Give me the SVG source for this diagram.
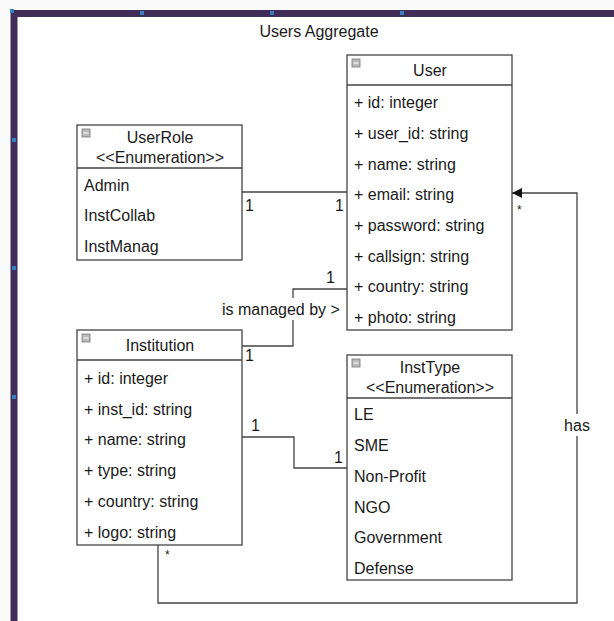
<svg xmlns="http://www.w3.org/2000/svg" width="614" height="621" viewBox="0 0 614 621">
<style>
text{font-family:"Liberation Sans",Arial,sans-serif;font-size:16px;fill:#1a1a1a}
.box{fill:#fff;stroke:#444;stroke-width:1.3}
.sep{stroke:#444;stroke-width:1.3}
.t{text-anchor:middle}
.con{fill:none;stroke:#444;stroke-width:1.3}
.ic{fill:#bbb;stroke:#777;stroke-width:0.8}
.icl{stroke:#fff;stroke-width:1}
.dot{fill:#3b7ec0}
</style>
<defs>
<marker id="arr" viewBox="0 0 10 10" refX="10" refY="5" markerWidth="10" markerHeight="10" markerUnits="userSpaceOnUse" orient="auto">
<path d="M0,0 L10,5 L0,10 Z" fill="#111"/>
</marker>
<g id="icon"><rect class="ic" x="0" y="0" width="8" height="8"/><line class="icl" x1="1.5" y1="4" x2="6.5" y2="4"/></g>
</defs>
<rect x="0" y="0" width="614" height="621" fill="#fafafa"/>
<g id="frame">
<rect x="14" y="13.5" width="610" height="620" fill="#fff" stroke="#3f2d58" stroke-width="7"/>
<rect class="dot" x="10" y="9" width="4" height="4"/>
<rect class="dot" x="140" y="11" width="4" height="4"/>
<rect class="dot" x="270" y="11" width="4" height="4"/>
<rect class="dot" x="400" y="11" width="4" height="4"/>
<rect class="dot" x="12" y="138" width="4" height="4"/>
<rect class="dot" x="12" y="266" width="4" height="4"/>
<rect class="dot" x="12" y="395" width="4" height="4"/>
<text class="t" x="319" y="37">Users Aggregate</text>
</g>
<g id="connectors">
<line class="con" x1="242" y1="192" x2="347" y2="192"/>
<text x="245" y="211">1</text>
<text x="335" y="211">1</text>
<polyline class="con" points="242,346 293,346 293,289 347,289"/>
<rect x="220" y="298" width="124" height="22" fill="#fff"/>
<text x="222" y="315">is managed by &gt;</text>
<text x="326" y="283">1</text>
<text x="245" y="361">1</text>
<polyline class="con" points="242,437 294,437 294,468 347,468"/>
<text x="251" y="431">1</text>
<text x="334" y="463">1</text>
<polyline class="con" points="158,545 158,603 577,603 577,193 512,193" marker-end="url(#arr)"/>
<rect x="560" y="414" width="34" height="22" fill="#fff"/>
<text class="t" x="577" y="431">has</text>
<text x="517" y="214" style="font-size:12px">*</text>
<text x="165" y="559" style="font-size:12px">*</text>
</g>
<g id="User">
<rect class="box" x="347" y="55" width="165" height="275"/>
<line class="sep" x1="347" y1="85" x2="512" y2="85"/>
<use href="#icon" x="352" y="59"/>
<text class="t" x="430" y="76">User</text>
<text x="354" y="108">+ id: integer</text>
<text x="354" y="139">+ user_id: string</text>
<text x="354" y="170">+ name: string</text>
<text x="354" y="200">+ email: string</text>
<text x="354" y="231">+ password: string</text>
<text x="354" y="262">+ callsign: string</text>
<text x="354" y="292">+ country: string</text>
<text x="354" y="323">+ photo: string</text>
</g>
<g id="UserRole">
<rect class="box" x="77" y="125" width="165" height="135"/>
<line class="sep" x1="77" y1="168" x2="242" y2="168"/>
<use href="#icon" x="82" y="129"/>
<text class="t" x="160" y="143">UserRole</text>
<text class="t" x="160" y="163">&lt;&lt;Enumeration&gt;&gt;</text>
<text x="84" y="191">Admin</text>
<text x="84" y="221">InstCollab</text>
<text x="84" y="252">InstManag</text>
</g>
<g id="Institution">
<rect class="box" x="77" y="330" width="165" height="215"/>
<line class="sep" x1="77" y1="360" x2="242" y2="360"/>
<use href="#icon" x="82" y="334"/>
<text class="t" x="160" y="351">Institution</text>
<text x="84" y="384">+ id: integer</text>
<text x="84" y="415">+ inst_id: string</text>
<text x="84" y="445">+ name: string</text>
<text x="84" y="476">+ type: string</text>
<text x="84" y="507">+ country: string</text>
<text x="84" y="538">+ logo: string</text>
</g>
<g id="InstType">
<rect class="box" x="347" y="355" width="165" height="225"/>
<line class="sep" x1="347" y1="398" x2="512" y2="398"/>
<use href="#icon" x="352" y="359"/>
<text class="t" x="430" y="373">InstType</text>
<text class="t" x="430" y="393">&lt;&lt;Enumeration&gt;&gt;</text>
<text x="354" y="420">LE</text>
<text x="354" y="451">SME</text>
<text x="354" y="482">Non-Profit</text>
<text x="354" y="513">NGO</text>
<text x="354" y="543">Government</text>
<text x="354" y="574">Defense</text>
</g>
</svg>
